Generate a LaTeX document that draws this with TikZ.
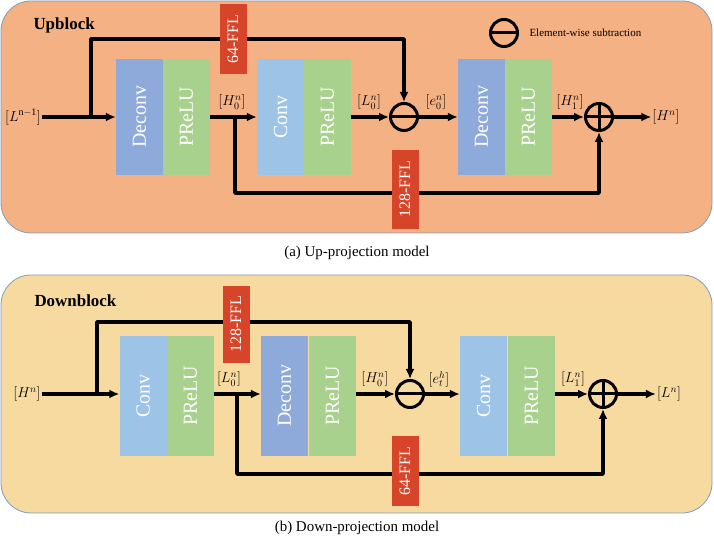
\documentclass[tikz,border=0pt]{standalone}
\usepackage{fontspec}
\setmainfont{Liberation Serif}
\usepackage{graphicx}
\usetikzlibrary{arrows.meta}
\definecolor{upfill}{HTML}{F4B183}
\definecolor{downfill}{HTML}{F7DA9F}
\definecolor{panelline}{HTML}{7F9CC0}
\definecolor{deconvblue}{HTML}{8EAADB}
\definecolor{convblue}{HTML}{9DC3E6}
\definecolor{preluGreen}{HTML}{A9D18E}
\definecolor{fflred}{HTML}{D6452A}
\begin{document}
\begin{tikzpicture}[x=1bp,y=1bp,>={Latex[length=10bp,width=9bp]},line join=bevel,
  panel/.style={draw=panelline,line width=0.8bp,rounded corners=30bp},
  block/.style={draw=none,minimum width=47bp,inner sep=0pt,text=white,font=\fontsize{20}{23}\selectfont},
  ffl/.style={draw=none,fill=fflred,minimum width=27bp,inner sep=0pt,text=white,font=\fontsize{16}{18}\selectfont},
  flow/.style={black,line width=3.2bp},
  lbl/.style={draw=none,inner sep=1bp,font=\fontsize{14.4}{17}\selectfont},
  subop/.style={circle,draw,line width=3bp,minimum size=27bp,inner sep=0pt,
    path picture={\draw[line width=3bp] (path picture bounding box.west) -- (path picture bounding box.east);}},
  addop/.style={circle,draw,line width=3bp,minimum size=27bp,inner sep=0pt,
    path picture={\draw[line width=3bp] (path picture bounding box.west) -- (path picture bounding box.east)
      (path picture bounding box.north) -- (path picture bounding box.south);}},
]
\useasboundingbox (0,0) rectangle (714,541);
%% up-projection
\draw [panel,fill=upfill] (1,308) rectangle (712,540);
\node (title_a) at (30,516) [anchor=west,font=\fontsize{17}{19}\selectfont\bfseries] {Upblock};
\node (legend_op) at (504,508) [subop] {};
\node (legend_txt) at (526,508) [anchor=west,font=\fontsize{11}{13}\selectfont] {Element-wise subtraction};
  \node (deconv_a) at (139.5,424) [block,minimum height=116bp,fill=deconvblue] {\rotatebox{90}{Deconv}};
  \node (prelu_a) at (186.5,424) [block,minimum height=116bp,fill=preluGreen] {\rotatebox{90}{PReLU}};
  \node (conv_a) at (280.5,424) [block,minimum height=116bp,fill=convblue] {\rotatebox{90}{Conv}};
  \node (prelu_b) at (327.5,424) [block,minimum height=116bp,fill=preluGreen] {\rotatebox{90}{PReLU}};
  \node (deconv_b) at (481.5,424) [block,minimum height=116bp,fill=deconvblue] {\rotatebox{90}{Deconv}};
  \node (prelu_c) at (528.5,424) [block,minimum height=116bp,fill=preluGreen] {\rotatebox{90}{PReLU}};
  \node (sub_a) at (404,424) [subop] {};
  \node (add_a) at (599,424) [addop] {};
  \node (in_a) at (23,424) [lbl] {$[L^{\mathrm{n-1}}]$};
  \node (out_a) at (666,424) [lbl] {$[H^{n}]$};
  \node (h0_a) at (232,439) [lbl] {$[H_0^n]$};
  \node (l0_a) at (369,439) [lbl] {$[L_0^n]$};
  \node (e0_a) at (436,439) [lbl] {$[e_0^n]$};
  \node (h1_a) at (570,439) [lbl] {$[H_1^n]$};
  \coordinate (split_a) at (91,424);
  \coordinate (skip_a) at (235,424);
  \coordinate (top_a) at (233,502);
  \coordinate (bot_a) at (405,348);
  \draw [flow,->] (in_a) -- (deconv_a);
  \draw [flow,->] (prelu_a) -- (conv_a);
  \draw [flow,->] (prelu_b) -- (sub_a);
  \draw [flow,->] (sub_a) -- (deconv_b);
  \draw [flow,->] (prelu_c) -- (add_a);
  \draw [flow,->] (add_a) -- (out_a);
  \draw [flow,->] (split_a) |- (top_a) -| (sub_a.north);
  \draw [flow,->] (skip_a) |- (bot_a) -| (add_a.south);
  \node (ffl_a) at (top_a) [ffl,minimum height=70bp] {\rotatebox{90}{64-FFL}};
  \node (ffl_b) at (405,351.5) [ffl,minimum height=79bp] {\rotatebox{90}{128-FFL}};
\node (cap_a) at (357,288) [font=\fontsize{15}{17}\selectfont] {(a) Up-projection model};
%% down-projection
\draw [panel,fill=downfill] (1,28) rectangle (712,266);
\node (title_b) at (31,240) [anchor=west,font=\fontsize{17}{19}\selectfont\bfseries] {Downblock};
  \node (conv_c) at (143,145) [block,minimum height=120bp,fill=convblue] {\rotatebox{90}{Conv}};
  \node (prelu_d) at (190.5,145) [block,minimum height=120bp,fill=preluGreen] {\rotatebox{90}{PReLU}};
  \node (deconv_c) at (284.5,145) [block,minimum height=120bp,fill=deconvblue] {\rotatebox{90}{Deconv}};
  \node (prelu_e) at (332.5,145) [block,minimum height=120bp,fill=preluGreen] {\rotatebox{90}{PReLU}};
  \node (conv_d) at (483.5,145) [block,minimum height=120bp,fill=convblue] {\rotatebox{90}{Conv}};
  \node (prelu_f) at (531.5,145) [block,minimum height=120bp,fill=preluGreen] {\rotatebox{90}{PReLU}};
  \node (sub_b) at (410,147) [subop] {};
  \node (add_b) at (603,147) [addop] {};
  \node (in_b) at (27,147) [lbl] {$[H^{n}]$};
  \node (out_b) at (669,147) [lbl] {$[L^{n}]$};
  \node (l0_b) at (229,162) [lbl] {$[L_0^n]$};
  \node (h0_b) at (375,162) [lbl] {$[H_0^n]$};
  \node (et_b) at (439,162) [lbl] {$[e_t^h]$};
  \node (l1_b) at (573,162) [lbl] {$[L_1^n]$};
  \coordinate (split_b) at (97,147);
  \coordinate (skip_b) at (237,147);
  \coordinate (top_b) at (236,219);
  \coordinate (bot_b) at (405,67);
  \draw [flow,->] (in_b) -- (conv_c.west |- in_b);
  \draw [flow,->] (prelu_d.east |- sub_b) -- (deconv_c.west |- sub_b);
  \draw [flow,->] (prelu_e.east |- sub_b) -- (sub_b);
  \draw [flow,->] (sub_b) -- (conv_d.west |- sub_b);
  \draw [flow,->] (prelu_f.east |- add_b) -- (add_b);
  \draw [flow,->] (add_b) -- (out_b);
  \draw [flow,->] (split_b) |- (top_b) -| (sub_b.north);
  \draw [flow,->] (skip_b) |- (bot_b) -| (add_b.south);
  \node (ffl_c) at (236,216.5) [ffl,minimum height=77bp] {\rotatebox{90}{128-FFL}};
  \node (ffl_d) at (405,70) [ffl,minimum height=70bp] {\rotatebox{90}{64-FFL}};
\node (cap_b) at (357,13) [font=\fontsize{15}{17}\selectfont] {(b) Down-projection model};
%
\end{tikzpicture}
\end{document}
